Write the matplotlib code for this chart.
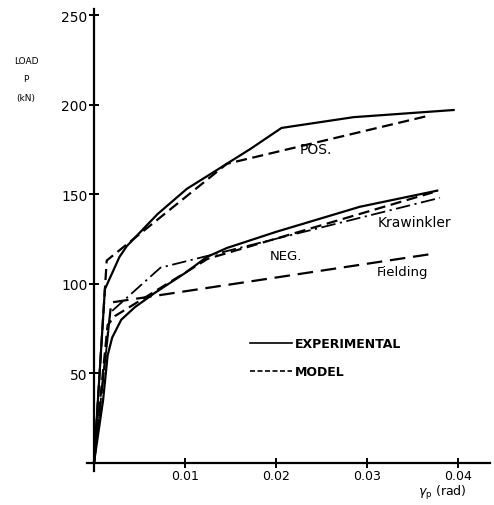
import matplotlib
matplotlib.use("Agg")
import matplotlib.pyplot as plt

# positive loading: experiment and model
pos_exp_x = [0, 0.0012, 0.0028, 0.0036, 0.0070, 0.0102, 0.0124, 0.0149, 0.0171, 0.0206,
             0.0285, 0.0395]
pos_exp_y = [0, 97, 115, 121, 139, 153, 160, 168, 175, 187, 193, 197]
pos_mod_x = [0, 0.0014, 0.0146, 0.0369]
pos_mod_y = [0, 113, 167, 194]

# negative loading: experiment and model
neg_exp_x = [0, 0.0010, 0.0015, 0.0020, 0.0030, 0.0045, 0.0067, 0.0100, 0.0124, 0.0146,
             0.0200, 0.0292, 0.0377]
neg_exp_y = [0, 35, 60, 70, 80, 87, 95, 106, 115, 120, 129, 143, 152]
neg_mod_x = [0, 0.0015, 0.0023, 0.0125, 0.0372]
neg_mod_y = [0, 77, 82, 114, 151]

# other models
kraw_x = [0, 0.0018, 0.0073, 0.0120, 0.0380]
kraw_y = [0, 84, 109, 115, 148]
field_x = [0, 0.0019, 0.0370]
field_y = [0, 89.6, 116.6]

yticks = [50, 100, 150, 200, 250]
xticks = [0.01, 0.02, 0.03, 0.04]
xticklabels = ["0.01", "0.02", "0.03", "0.04"]

fig = plt.figure(figsize=(4.94, 5.06), dpi=100)
ax = fig.add_axes([0.176, 0.067, 0.816, 0.913])

lw = 1.6
ax.plot(pos_exp_x, pos_exp_y, color="black", lw=lw)
ax.plot(pos_mod_x, pos_mod_y, color="black", lw=lw, ls=(0, (5, 2.5)))
ax.plot(neg_exp_x, neg_exp_y, color="black", lw=lw)
ax.plot(neg_mod_x, neg_mod_y, color="black", lw=lw, ls=(0, (5, 2.5)))
ax.plot(kraw_x, kraw_y, color="black", lw=1.3, ls=(0, (8, 2.5, 1.2, 2.5)))
ax.plot(field_x, field_y, color="black", lw=lw, ls=(0, (7, 3.5)))

ax.text(0.0226, 173, "POS.", fontsize=10)
ax.text(0.0193, 114, "NEG.", fontsize=9.5)
ax.text(0.0311, 132, "Krawinkler", fontsize=10)
ax.text(0.0311, 105, "Fielding", fontsize=9.5)

# legend
ax.plot([0.404, 0.509], [0.277, 0.277], color="black", lw=1.2, transform=ax.transAxes)
ax.text(0.515, 0.277, "EXPERIMENTAL", transform=ax.transAxes, va="center",
        fontsize=9, fontweight="bold")
ax.plot([0.404, 0.509], [0.216, 0.216], color="black", lw=1.2, ls=(0, (3, 1.5)),
        transform=ax.transAxes)
ax.text(0.515, 0.216, "MODEL", transform=ax.transAxes, va="center",
        fontsize=9, fontweight="bold")

ax.set_xlim(-0.00077, 0.0435)
ax.set_ylim(-4.5, 253.3)
ax.spines["left"].set_position(("data", 0))
ax.spines["bottom"].set_position(("data", 0))
ax.spines["top"].set_visible(False)
ax.spines["right"].set_visible(False)
ax.spines["left"].set_linewidth(1.6)
ax.spines["bottom"].set_linewidth(1.6)

ax.set_yticks(yticks)
ax.set_yticklabels([str(v) for v in yticks], fontsize=10)
ax.set_xticks(xticks)
ax.set_xticklabels(xticklabels, fontsize=9)
ax.tick_params(direction="inout", length=7, width=1.4, pad=1)

fig.text(26 / 494, 1 - 62 / 506, "LOAD", fontsize=6.5, ha="center", va="center")
fig.text(26 / 494, 1 - 79 / 506, "P", fontsize=6.5, ha="center", va="center")
fig.text(26 / 494, 1 - 98 / 506, "(kN)", fontsize=6.5, ha="center", va="center")
fig.text(442 / 494, 1 - 493 / 506, r"$\gamma_\mathrm{p}$ (rad)", fontsize=9,
         ha="center", va="center")

fig.savefig("out.png", facecolor="white")
